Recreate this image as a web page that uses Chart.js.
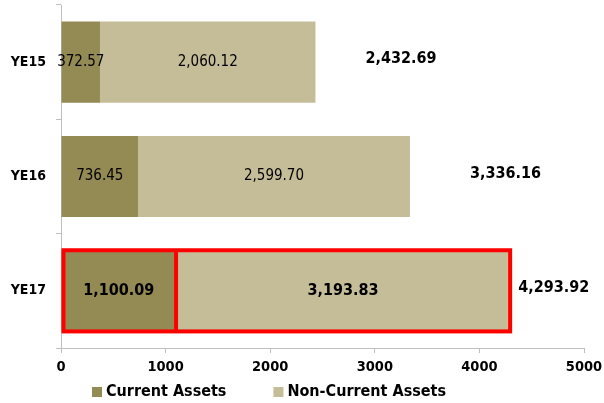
<!DOCTYPE html>
<html>
<head>
<meta charset="utf-8">
<script src="https://cdn.jsdelivr.net/npm/chart.js@4"></script>
<style>
  html, body { margin: 0; padding: 0; background: #fff; }
</style>
</head>
<body>
<canvas id="assets" width="604" height="403"></canvas>
<script>
const years = ['YE15', 'YE16', 'YE17'];
const currentAssets = [372.57, 736.45, 1100.09];
const nonCurrentAssets = [2060.12, 2599.70, 3193.83];
const totals = [2432.69, 3336.16, 4293.92];
const xTicks = [0, 1000, 2000, 3000, 4000, 5000];

const FONT = "'DejaVu Sans Condensed', 'DejaVu Sans', Verdana, sans-serif";
const highlight = 2; // YE17 is boxed in red
const fmt = v => v.toLocaleString('en-US', { minimumFractionDigits: 2, maximumFractionDigits: 2 });

// red outline round the highlighted bar, centred on its edges like Excel does
const boxPlugin = {
    id: 'redBox',
    afterDatasetsDraw(chart, args, opts) {
        const first = chart.getDatasetMeta(0).data[highlight];
        const last = chart.getDatasetMeta(chart.data.datasets.length - 1).data[highlight];
        const c = chart.ctx;
        const lw = opts.width;
        const top = first.y - first.height / 2;
        c.save();
        c.strokeStyle = opts.color;
        c.lineWidth = lw;
        c.strokeRect(first.base + lw / 2, top, last.x - first.base - lw / 2, first.height);
        c.beginPath();
        c.moveTo(first.x, top);
        c.lineTo(first.x, top + first.height);
        c.stroke();
        c.restore();
    }
};

// segment values + the stacked total to the right of each bar
const labelPlugin = {
    id: 'barLabels',
    afterDatasetsDraw(chart, args, opts) {
        const c = chart.ctx;
        c.save();
        c.fillStyle = '#000';
        c.textBaseline = 'middle';
        chart.data.datasets.forEach((ds, di) => {
            chart.getDatasetMeta(di).data.forEach((bar, i) => {
                c.font = i === highlight ? 'bold 16px ' + FONT : '15px ' + FONT;
                c.textAlign = 'center';
                c.fillText(fmt(ds.data[i]), (bar.x + bar.base) / 2, bar.y);
            });
        });
        const last = chart.getDatasetMeta(chart.data.datasets.length - 1).data;
        c.font = 'bold 16px ' + FONT;
        c.textAlign = 'left';
        last.forEach((bar, i) => {
            c.fillText(fmt(totals[i]), bar.x + opts.gaps[i], bar.y - 3);
        });
        c.restore();
    }
};

// legend drawn by hand so it sits where the original has it
const legendPlugin = {
    id: 'bottomLegend',
    afterDraw(chart, args, opts) {
        const c = chart.ctx;
        let x = opts.x;
        c.save();
        c.font = 'bold 16px ' + FONT;
        c.textBaseline = 'middle';
        c.textAlign = 'left';
        chart.data.datasets.forEach(ds => {
            c.fillStyle = ds.backgroundColor;
            c.fillRect(x, opts.y - 5, 10, 10);
            c.fillStyle = '#000';
            c.fillText(ds.label, x + 14, opts.y);
            x += 14 + c.measureText(ds.label).width + 47;
        });
        c.restore();
    }
};

const ctx = document.getElementById('assets').getContext('2d');

const chart = new Chart(ctx, {
    type: 'bar',
    data: {
        labels: years,
        datasets: [{
            label: 'Current Assets',
            data: currentAssets,
            backgroundColor: '#948A54',
            borderWidth: 0,
            barPercentage: 0.71,
            categoryPercentage: 1
        }, {
            label: 'Non-Current Assets',
            data: nonCurrentAssets,
            backgroundColor: '#C4BD97',
            borderWidth: 0,
            barPercentage: 0.71,
            categoryPercentage: 1
        }]
    },
    options: {
        indexAxis: 'y',
        responsive: false,
        animation: false,
        layout: { padding: { top: 5, right: 20, left: 0, bottom: 0 } },
        plugins: {
            legend: { display: false },
            tooltip: { enabled: false },
            redBox: { color: '#ff0000', width: 4 },
            barLabels: { gaps: [50, 60, 8] },
            bottomLegend: { x: 92, y: 392 }
        },
        scales: {
            x: {
                stacked: true,
                min: 0,
                max: 5000,
                afterBuildTicks: s => { s.ticks = xTicks.map(v => ({ value: v })); },
                afterFit: s => { s.height = 55; s.paddingLeft = 0; s.paddingRight = 0; },
                ticks: {
                    color: '#000',
                    padding: 6,
                    font: { family: FONT, size: 14.5, weight: 'bold' },
                    callback: v => String(v)
                },
                grid: { drawOnChartArea: false, tickLength: 5, color: '#bfbfbf' },
                border: { color: '#bfbfbf' }
            },
            y: {
                stacked: true,
                afterFit: s => { s.width = 61; s.paddingTop = 0; s.paddingBottom = 0; },
                ticks: {
                    color: '#000',
                    padding: 10,
                    font: { family: FONT, size: 14, weight: 'bold' }
                },
                grid: { drawOnChartArea: false, tickLength: 5, color: '#bfbfbf', offset: true },
                border: { color: '#bfbfbf' }
            }
        }
    },
    plugins: [boxPlugin, labelPlugin, legendPlugin]
});
</script>
</body>
</html>
